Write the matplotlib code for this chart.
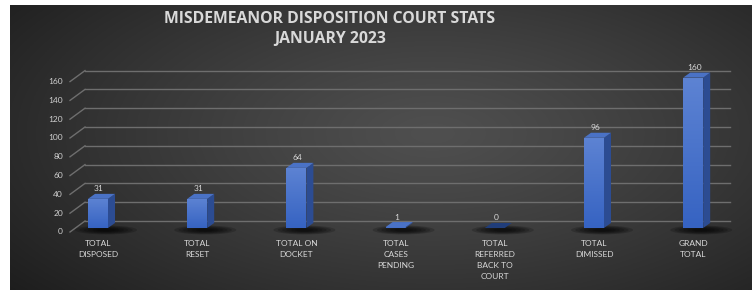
import numpy as np
import matplotlib
matplotlib.use("Agg")
import matplotlib.pyplot as plt
from matplotlib.patches import Polygon, Ellipse

plt.rcParams['font.family'] = ['Lato', 'DejaVu Sans']

# chart data
categories = ["TOTAL\nDISPOSED", "TOTAL\nRESET", "TOTAL ON\nDOCKET", "TOTAL\nCASES\nPENDING",
              "TOTAL\nREFERRED\nBACK TO\nCOURT", "TOTAL\nDIMISSED", "GRAND\nTOTAL"]
values = [31, 31, 64, 1, 0, 96, 160]
yticks = [0, 20, 40, 60, 80, 100, 120, 140, 160]
title = "MISDEMEANOR DISPOSITION COURT STATS\nJANUARY 2023"

W, H = 756, 290
fig = plt.figure(figsize=(W / 100, H / 100), dpi=100)
fig.patch.set_facecolor("white")

# dark radial background
bg = fig.add_axes([10 / W, 0, (752 - 10) / W, 285 / H])
bg.set_axis_off()
gx, gy = np.meshgrid(np.linspace(0, 1, 400), np.linspace(0, 1, 200))
r = np.sqrt(((gx - 0.57) / 0.75) ** 2 + ((gy - 0.45) / 0.9) ** 2)
r = np.clip(r, 0, 1)
shade = 0.31 - 0.20 * r ** 1.2
bg.imshow(np.dstack([shade] * 3), extent=[0, 1, 0, 1], aspect="auto", origin="upper")
bg.set_xlim(0, 1)
bg.set_ylim(0, 1)

# main axes mapped to pixels: category i at px 98 + 99*i, value 0 at 62 px from bottom
ax = fig.add_axes([0, 0, 1, 1], facecolor="none")
ax.set_axis_off()
cx = 99.2   # px per category
cy = 0.94   # px per unit value
ax.set_xlim(-98 / cx, (W - 98) / cx)
ax.set_ylim(-62 / cy, (H - 62) / cy)

def px_x(p):
    return p / cx

def px_y(p):
    return p / cy

grid_col = "#6e6e6e"
back_dy = px_y(7)
front_dy = -px_y(4)
x_wall_front = px_x(70 - 98)
x_wall_back = px_x(85 - 98)
x_back_end = px_x(730 - 98)
for v in yticks:
    ax.plot([x_wall_back, x_back_end], [v + back_dy, v + back_dy], color=grid_col, lw=1, zorder=1)
    ax.plot([x_wall_front, x_wall_back], [v + front_dy, v + back_dy], color=grid_col, lw=1, zorder=1)
    ax.text(px_x(63 - 98), v + front_dy, str(v), ha="right", va="center",
            fontsize=6, color="#d0d0d0")

# bars
x = np.arange(len(values))
bw = px_x(20)
ddx = px_x(7)
ddy = px_y(5)

# soft shadows under bars
for xi in x:
    for k in range(6):
        s = 1 - k * 0.14
        ax.add_patch(Ellipse((xi + px_x(8), px_y(-2)), px_x(62) * s, px_y(9) * s,
                             color="black", alpha=0.18, lw=0, zorder=2))

bars = ax.bar(x, values, width=bw, color="#4472c4", zorder=4, lw=0)
grad = np.linspace(0, 1, 100).reshape(-1, 1)
cmap = matplotlib.colors.LinearSegmentedColormap.from_list("b", ["#3663c2", "#5d83d3"])
for rect, v, xi in zip(bars, values, x):
    x0 = rect.get_x()
    x1 = x0 + rect.get_width()
    if v > 0:
        im = ax.imshow(grad, cmap=cmap, extent=[x0, x1, 0, v], aspect="auto",
                       origin="lower", zorder=4)
        im.set_clip_path(rect)
        ax.add_patch(Polygon([[x1, 0], [x1 + ddx, ddy], [x1 + ddx, v + ddy], [x1, v]],
                             closed=True, color="#2c4c92", lw=0, zorder=4))
    top_col = "#4a72c6" if v > 0 else "#203d7a"
    ax.add_patch(Polygon([[x0, v], [x1, v], [x1 + ddx, v + ddy], [x0 + ddx, v + ddy]],
                         closed=True, color=top_col, lw=0, zorder=5))
    ax.text(xi + px_x(1), v + px_y(10), str(v), ha="center", va="center",
            fontsize=6, color="#d9d9d9", zorder=6)
    ax.text(xi, px_y(-12), categories[xi], ha="center", va="top", fontsize=6,
            color="#d9d9d9", linespacing=1.65, zorder=6)

fig.text(330 / W, 1 - 29 / H, title, ha="center", va="center", fontsize=11.3,
         fontweight="bold", family=["Open Sans", "DejaVu Sans"], color="#d9d9d9",
         linespacing=1.4)

fig.savefig("out.png", dpi=100, facecolor=fig.get_facecolor())
